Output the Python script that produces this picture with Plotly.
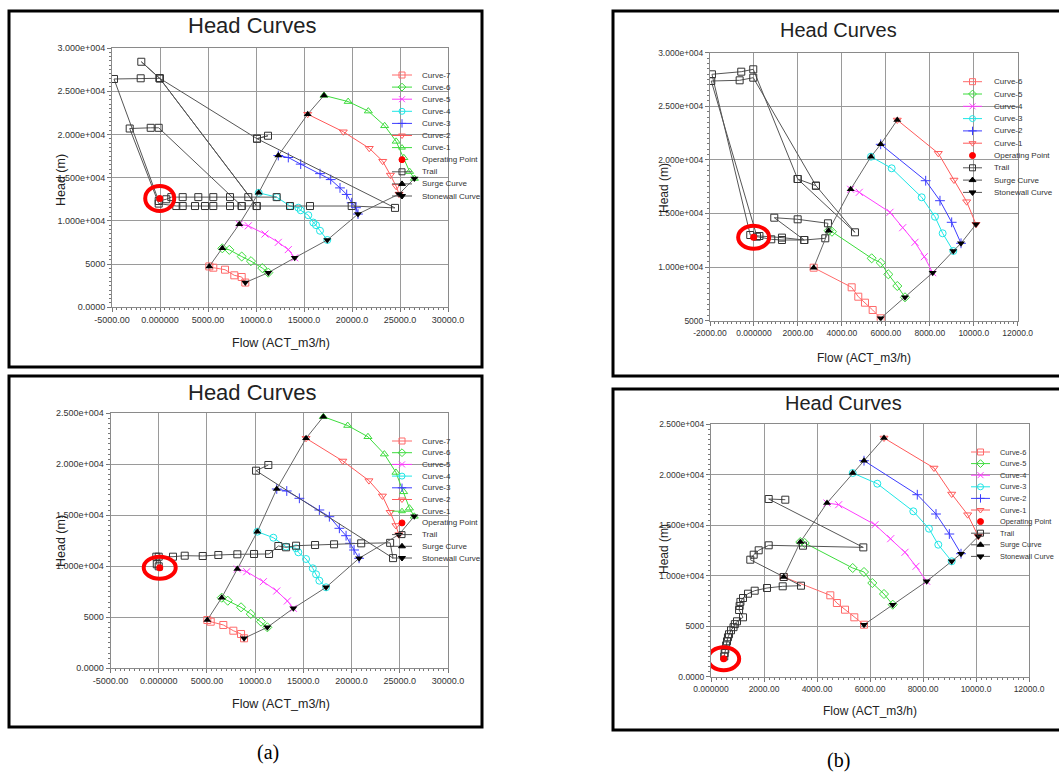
import plotly.graph_objects as go

W, H = 1059, 772
FONT = "Liberation Sans, Arial, sans-serif"

# ===================== DATA =====================
# ---- panel (a) top ----
a1_c7_q = [5135, 5552, 6771, 7740, 8510, 8885]
a1_c7_h = [4731, 4582, 4353, 3700, 3505, 2864]
a1_c6_q = [6490, 7219, 8510, 9479, 10656, 11281]
a1_c6_h = [6827, 6644, 5876, 5338, 4536, 4009]
a1_c5_q = [8260, 9198, 10938, 12323, 13365, 14031]
a1_c5_h = [9622, 9427, 8477, 7514, 6678, 5727]
a1_c4_q = [10281, 12156, 13542, 14406, 14656, 15448, 15969, 16250, 16667, 17427]
a1_c4_h = [13242, 12749, 11718, 11523, 11226, 10653, 9805, 9507, 8855, 7789]
a1_c3_q = [12323, 13365, 14656, 16667, 17781, 18750, 19448, 19969, 20417, 20625]
a1_c3_h = [17560, 17331, 16564, 15464, 14777, 13814, 13058, 12096, 11523, 10790]
a1_c2_q = [15385, 19094, 21800, 23200, 24000, 24600, 24900]
a1_c2_h = [22337, 20309, 18400, 16900, 15300, 14000, 13100]
a1_c1_q = [17083, 19600, 21700, 23400, 24600, 25400, 26000, 26500]
a1_c1_h = [24513, 23800, 22700, 21000, 19200, 17300, 15700, 14900]
a1_op_q = [-31]
a1_op_h = [12600]
a1_trail_q = [12156, 9198, 7292, 5552, 3990, 2365, 1177, 656, -135,
              -4792, -2010, -31, -1948, -31,
              10104, 11250, 10104,
              24479, 19969, 15625, 13542, 10073,
              -31, 10073,
              8510, -135, -969, -3156, -135,
              1698, 2365, 3646, 4688, 5552, 7292, 8510]
a1_trail_h = [12749, 12749, 12749, 12749, 12749, 12749, 12749, 12500, 12300,
              26415, 26495, 26495, 28408, 26495,
              19507, 19851, 19507,
              11500, 11718, 11718, 11718, 11718,
              26495, 11718,
              11718, 20767, 20767, 20687, 12000,
              11718, 11718, 11718, 11718, 11718, 11718, 11718]

# ---- panel (a) bottom ----
a2_c7_q = [5041, 5394, 6701, 7739, 8537, 8849]
a2_c7_h = [4735, 4569, 4245, 3686, 3363, 2941]
a2_c6_q = [6535, 7158, 8537, 9544, 10612, 11265]
a2_c6_h = [6922, 6627, 5980, 5324, 4569, 4020]
a2_c5_q = [8154, 9129, 10851, 12241, 13340, 13963]
a2_c5_h = [9735, 9471, 8490, 7578, 6598, 5882]
a2_c4_q = [10228, 11888, 13205, 14243, 14481, 15280, 15975, 16317, 16660, 17355]
a2_c4_h = [13392, 12804, 11922, 11765, 11373, 10716, 9804, 9216, 8588, 7941]
a2_c3_q = [12241, 13278, 14585, 16660, 17697, 18734, 19429, 19844, 20259, 20778]
a2_c3_h = [17578, 17382, 16667, 15520, 14863, 13725, 13000, 12255, 11598, 10784]
a2_c2_q = [15280, 19087, 21800, 23200, 24000, 24600, 24900]
a2_c2_h = [22549, 20324, 18400, 16900, 15300, 14000, 13100]
a2_c1_q = [17075, 19600, 21700, 23400, 24600, 25400, 26000, 26500]
a2_c1_h = [24667, 23800, 22700, 21000, 19200, 17300, 15700, 14900]
a2_op_q = [104]
a2_op_h = [9863]
a2_trail_q = [11369, 10093, 24300, 24000, 21000, 18185, 16214, 14243, 13205, 12407, 11442, 9886, 8154,
              6183, 4564, 2697, 1483, 0, -249, -200, 0]
a2_trail_h = [19931, 19373, 10800, 12300, 12250, 12157, 12088, 12020, 11863, 11990, 11206, 11206, 11176,
              11108, 11010, 11039, 10941, 10941, 10941, 10200, 10000]

# ---- panel (b) top ----
b1_c6_q = [2717, 4446, 4746, 5051, 5401, 5766]
b1_c6_h = [9944, 8116, 7239, 6679, 5998, 5224]
b1_c5_q = [3399, 3549, 5356, 5766, 6113, 6522, 6872]
b1_c5_h = [13396, 13302, 10821, 10410, 9328, 8237, 7183]
b1_c4_q = [4400, 4792, 6189, 6767, 7327, 7750, 8132]
b1_c4_h = [17257, 16978, 15112, 13675, 12313, 10970, 9478]
b1_c3_q = [5324, 6266, 7631, 8237, 8586, 9070]
b1_c3_h = [20299, 19216, 16511, 14701, 13153, 11502]
b1_c2_q = [5766, 7813, 8464, 8996, 9420]
b1_c2_h = [21455, 18060, 16194, 14179, 12220]
b1_c1_q = [6521, 8387, 9101, 9679, 10102]
b1_c1_h = [23722, 20616, 18125, 16101, 13993]
b1_op_q = [-14]
b1_op_h = [12780]
b1_trail_q = [1989, 4596, 2821, 1989, -32, -578, -1911, -168, 250, 1274, 2289, 924, 1989, 3367, 3245, 2289,
              1274, 787, 137, -1943, -651, -32, 2821]
b1_trail_h = [18218, 13246, 17593, 18218, 28451, 28228, 27985, 12994, 12900, 12750, 12528, 14608, 14459,
              14086, 12687, 12528, 12528, 12593, 12836, 27360, 27425, 27668, 17593]

# ---- panel (b) bottom ----
b2_c6_q = [2743, 4502, 4750, 5057, 5408, 5774]
b2_c6_h = [9864, 8053, 7291, 6628, 5877, 5145]
b2_c5_q = [3370, 3536, 5347, 5774, 6087, 6528, 6857]
b2_c5_h = [13326, 13227, 10754, 10358, 9270, 8182, 7123]
b2_c4_q = [4377, 4818, 6189, 6781, 7321, 7736, 8140]
b2_c4_h = [17182, 17016, 15037, 13653, 12307, 10922, 9438]
b2_c3_q = [5347, 6276, 7634, 8226, 8577, 9083]
b2_c3_h = [20152, 19094, 16363, 14642, 13059, 11416]
b2_c2_q = [5774, 7785, 8491, 8994, 9434]
b2_c2_h = [21369, 18006, 16096, 14118, 12169]
b2_c1_q = [6528, 8415, 9083, 9686, 10087]
b2_c1_h = [23615, 20647, 18075, 16027, 13890]
b2_op_q = [479]
b2_op_h = [1781]
b2_trail_q = [2804, 2177, 5747, 3472, 2177, 1800, 1611, 1483, 2743, 3396, 2706, 2113, 1649, 1396, 1208,
              1110, 1080, 1060, 1208, 981, 900, 850, 755, 680, 640, 604, 570, 540, 516, 500]
b2_trail_h = [17511, 17580, 12794, 12960, 13000, 12505, 12070, 11575, 9864, 9003, 8943, 8775, 8508, 8211,
              7786, 7400, 7000, 6600, 5877, 5481, 5200, 4900, 4590, 4200, 3900, 3502, 3100, 2700, 2345,
              2000]

# ---- tick labels ----
a_x_vals = [-5000, 0, 5000, 10000, 15000, 20000, 25000, 30000]
a_x_text = ["-5000.00", "0.000000", "5000.00", "10000.0", "15000.0", "20000.0", "25000.0", "30000.0"]
a1_y_vals = [0, 5000, 10000, 15000, 20000, 25000, 30000]
a1_y_text = ["0.0000", "5000", "1.000e+004", "1.500e+004", "2.000e+004", "2.500e+004", "3.000e+004"]
a2_y_vals = [0, 5000, 10000, 15000, 20000, 25000]
a2_y_text = ["0.0000", "5000", "1.000e+004", "1.500e+004", "2.000e+004", "2.500e+004"]
b1_x_vals = [-2000, 0, 2000, 4000, 6000, 8000, 10000, 12000]
b1_x_text = ["-2000.00", "0.000000", "2000.00", "4000.00", "6000.00", "8000.00", "10000.0", "12000.0"]
b1_y_vals = [5000, 10000, 15000, 20000, 25000, 30000]
b1_y_text = ["5000", "1.000e+004", "1.500e+004", "2.000e+004", "2.500e+004", "3.000e+004"]
b2_x_vals = [0, 2000, 4000, 6000, 8000, 10000, 12000]
b2_x_text = ["0.000000", "2000.00", "4000.00", "6000.00", "8000.00", "10000.0", "12000.0"]
b2_y_vals = [0, 5000, 10000, 15000, 20000, 25000]
b2_y_text = ["0.0000", "5000", "1.000e+004", "1.500e+004", "2.000e+004", "2.500e+004"]

# ===================== STYLES =====================
STY = {
    'sq':   dict(symbol='square-open', color='#ff6a6a'),
    'dia':  dict(symbol='diamond-open', color='#3ddc3d'),
    'x':    dict(symbol='x-thin-open', color='#ff3cff'),
    'circ': dict(symbol='circle-open', color='#1ee6e6'),
    'plus': dict(symbol='cross-thin-open', color='#3c3cff'),
    'tdn':  dict(symbol='triangle-down-open', color='#ff5a5a'),
    'tup':  dict(symbol='triangle-up-open', color='#3ddc3d'),
}
TRAIL_C = '#555555'
SURGE_C = '#666666'

a1_curves = [("Curve-7", a1_c7_q, a1_c7_h, 'sq'), ("Curve-6", a1_c6_q, a1_c6_h, 'dia'),
             ("Curve-5", a1_c5_q, a1_c5_h, 'x'), ("Curve-4", a1_c4_q, a1_c4_h, 'circ'),
             ("Curve-3", a1_c3_q, a1_c3_h, 'plus'), ("Curve-2", a1_c2_q, a1_c2_h, 'tdn'),
             ("Curve-1", a1_c1_q, a1_c1_h, 'tup')]
a2_curves = [("Curve-7", a2_c7_q, a2_c7_h, 'sq'), ("Curve-6", a2_c6_q, a2_c6_h, 'dia'),
             ("Curve-5", a2_c5_q, a2_c5_h, 'x'), ("Curve-4", a2_c4_q, a2_c4_h, 'circ'),
             ("Curve-3", a2_c3_q, a2_c3_h, 'plus'), ("Curve-2", a2_c2_q, a2_c2_h, 'tdn'),
             ("Curve-1", a2_c1_q, a2_c1_h, 'tup')]
b1_curves = [("Curve-6", b1_c6_q, b1_c6_h, 'sq'), ("Curve-5", b1_c5_q, b1_c5_h, 'dia'),
             ("Curve-4", b1_c4_q, b1_c4_h, 'x'), ("Curve-3", b1_c3_q, b1_c3_h, 'circ'),
             ("Curve-2", b1_c2_q, b1_c2_h, 'plus'), ("Curve-1", b1_c1_q, b1_c1_h, 'tdn')]
b2_curves = [("Curve-6", b2_c6_q, b2_c6_h, 'sq'), ("Curve-5", b2_c5_q, b2_c5_h, 'dia'),
             ("Curve-4", b2_c4_q, b2_c4_h, 'x'), ("Curve-3", b2_c3_q, b2_c3_h, 'circ'),
             ("Curve-2", b2_c2_q, b2_c2_h, 'plus'), ("Curve-1", b2_c1_q, b2_c1_h, 'tdn')]

# layout geometry in pixels
PANELS = [
    dict(curves=a1_curves, trail=(a1_trail_q, a1_trail_h), op=(a1_op_q, a1_op_h),
         border=(9, 11, 482, 367), plot=(112, 48, 448, 307.3), xr=(-5000, 30000), yr=(0, 30000),
         xt=(a_x_vals, a_x_text), yt=(a1_y_vals, a1_y_text), xminor=500, yminor=500,
         title=(252, 25, 22), flow=(281, 343, 12.5), head=(61, 180, 12.5), tick=9,
         leg=(392, 412, 420, 75, 12.1, 8), ell=(29, 25)),
    dict(curves=a2_curves, trail=(a2_trail_q, a2_trail_h), op=(a2_op_q, a2_op_h),
         border=(9, 376, 482, 727), plot=(110.5, 413.3, 448, 668.3), xr=(-5000, 30000), yr=(0, 25000),
         xt=(a_x_vals, a_x_text), yt=(a2_y_vals, a2_y_text), xminor=500, yminor=500,
         title=(252, 392, 22), flow=(281, 704, 12.5), head=(61, 541, 12.5), tick=9,
         leg=(392, 412, 420, 441, 11.7, 8), ell=(32, 22)),
    dict(curves=b1_curves, trail=(b1_trail_q, b1_trail_h), op=(b1_op_q, b1_op_h),
         border=(613, 11, 1064, 376), plot=(710, 52.7, 1017.7, 320.7), xr=(-2000, 12000), yr=(5000, 30000),
         xt=(b1_x_vals, b1_x_text), yt=(b1_y_vals, b1_y_text), xminor=200, yminor=500,
         title=(838, 30, 20), flow=(864, 358, 12), head=(664, 188, 12), tick=8.5,
         leg=(963, 982, 992, 81.7, 12.3, 8), ell=(31, 23)),
    dict(curves=b2_curves, trail=(b2_trail_q, b2_trail_h), op=(b2_op_q, b2_op_h),
         border=(613, 389, 1064, 730), plot=(711, 424, 1029, 676.7), xr=(0, 12000), yr=(0, 25000),
         xt=(b2_x_vals, b2_x_text), yt=(b2_y_vals, b2_y_text), xminor=200, yminor=500,
         title=(843, 403, 20), flow=(870, 711, 12), head=(664, 549, 12), tick=8.5,
         leg=(971, 990, 998, 452, 11.6, 7.4), ell=(31, 23)),
]


def fx(px):
    return px / W


def fy(py):
    return 1 - py / H


fig = go.Figure()
shapes, annos = [], []
layout_axes = {}
OV = 5  # overlay axis index (pixel space) for the legend keys

for i, p in enumerate(PANELS, start=1):
    xa, ya = f"x{i}" if i > 1 else "x", f"y{i}" if i > 1 else "y"
    xk, yk = f"xaxis{i}" if i > 1 else "xaxis", f"yaxis{i}" if i > 1 else "yaxis"
    x0, y0, x1, y1 = p['plot']
    common = dict(showgrid=True, gridcolor='#9a9a9a', gridwidth=1, showline=True, linecolor='#8a8a8a',
                  linewidth=1, mirror=True, zeroline=False, ticks='outside', ticklen=4, tickcolor='#777',
                  tickfont=dict(family=FONT, size=p['tick'], color='#333'), fixedrange=True,
                  automargin=False)
    layout_axes[xk] = dict(domain=[fx(x0), fx(x1)], range=list(p['xr']), anchor=ya,
                           tickmode='array', tickvals=p['xt'][0], ticktext=p['xt'][1],
                           minor=dict(ticks='outside', ticklen=2, tickcolor='#777', dtick=p['xminor'],
                                      showgrid=False), **common)
    layout_axes[yk] = dict(domain=[fy(y1), fy(y0)], range=list(p['yr']), anchor=xa,
                           tickmode='array', tickvals=p['yt'][0], ticktext=p['yt'][1],
                           minor=dict(ticks='outside', ticklen=2, tickcolor='#777', dtick=p['yminor'],
                                      showgrid=False), **common)

    for name, q, h, s in p['curves']:
        st = STY[s]
        fig.add_trace(go.Scatter(x=q, y=h, mode='lines+markers', name=name, xaxis=xa, yaxis=ya,
                                 line=dict(color=st['color'], width=1),
                                 marker=dict(symbol=st['symbol'], size=7, color=st['color'],
                                             line=dict(color=st['color'], width=1)),
                                 showlegend=False))
    # surge / stonewall lines join the first / last point of every curve
    sq = [c[1][0] for c in p['curves']]
    sh = [c[2][0] for c in p['curves']]
    wq = [c[1][-1] for c in p['curves']]
    wh = [c[2][-1] for c in p['curves']]
    tq, th = p['trail']
    fig.add_trace(go.Scatter(x=tq, y=th, mode='lines+markers', name='Trail', xaxis=xa, yaxis=ya,
                             line=dict(color=TRAIL_C, width=1),
                             marker=dict(symbol='square-open', size=7, color='#333',
                                         line=dict(color='#333', width=1)), showlegend=False))
    fig.add_trace(go.Scatter(x=sq, y=sh, mode='lines+markers', name='Surge Curve', xaxis=xa, yaxis=ya,
                             line=dict(color=SURGE_C, width=1),
                             marker=dict(symbol='triangle-up', size=7, color='#000'), showlegend=False))
    fig.add_trace(go.Scatter(x=wq, y=wh, mode='lines+markers', name='Stonewall Curve', xaxis=xa, yaxis=ya,
                             line=dict(color=SURGE_C, width=1),
                             marker=dict(symbol='triangle-down', size=7, color='#000'), showlegend=False))
    oq, oh = p['op']
    fig.add_trace(go.Scatter(x=oq, y=oh, mode='markers', name='Operating Point', xaxis=xa, yaxis=ya,
                             marker=dict(symbol='circle', size=7, color='#ff0000'), showlegend=False))
    ew, eh = p['ell']
    shapes.append(dict(type='circle', xref=xa, yref=ya, xsizemode='pixel', ysizemode='pixel',
                       xanchor=oq[0], yanchor=oh[0], x0=-ew / 2, x1=ew / 2, y0=-eh / 2, y1=eh / 2,
                       line=dict(color='#ff0000', width=4)))

    bx0, by0, bx1, by1 = p['border']
    shapes.append(dict(type='rect', xref='paper', yref='paper', x0=fx(bx0), x1=fx(bx1), y0=fy(by1),
                       y1=fy(by0), line=dict(color='#000', width=3), layer='above'))
    tx, ty, ts = p['title']
    annos.append(dict(text='Head Curves', x=fx(tx), y=fy(ty), xref='paper', yref='paper', showarrow=False,
                      xanchor='center', yanchor='middle', font=dict(family=FONT, size=ts, color='#222')))
    tx, ty, ts = p['flow']
    annos.append(dict(text='Flow (ACT_m3/h)', x=fx(tx), y=fy(ty), xref='paper', yref='paper',
                      showarrow=False, xanchor='center', yanchor='middle',
                      font=dict(family=FONT, size=ts, color='#222')))
    tx, ty, ts = p['head']
    annos.append(dict(text='Head (m)', x=fx(tx), y=fy(ty), xref='paper', yref='paper', showarrow=False,
                      textangle=-90, xanchor='center', yanchor='middle',
                      font=dict(family=FONT, size=ts, color='#222')))

    lx0, lx1, ltx, ly0, ldy, lfs = p['leg']
    entries = [(n, STY[s]['symbol'], STY[s]['color'], True) for n, _, _, s in p['curves']]
    entries += [('Operating Point', 'circle', '#ff0000', False), ('Trail', 'square-open', '#333', True),
                ('Surge Curve', 'triangle-up', '#000', True), ('Stonewall Curve', 'triangle-down', '#000', True)]
    for k, (n, sym, col, has_line) in enumerate(entries):
        yy = ly0 + k * ldy
        lc = col if n.startswith('Curve') else TRAIL_C
        if has_line:
            fig.add_trace(go.Scatter(x=[lx0, lx1], y=[yy, yy], mode='lines', xaxis=f'x{OV}', yaxis=f'y{OV}',
                                     line=dict(color=lc, width=1), showlegend=False, hoverinfo='skip'))
        fig.add_trace(go.Scatter(x=[(lx0 + lx1) / 2], y=[yy], mode='markers', xaxis=f'x{OV}',
                                 yaxis=f'y{OV}', showlegend=False, hoverinfo='skip',
                                 marker=dict(symbol=sym, size=6, color=col, line=dict(color=col, width=1))))
        annos.append(dict(text=n, x=ltx, y=yy, xref=f'x{OV}', yref=f'y{OV}', showarrow=False,
                          xanchor='left', yanchor='middle', font=dict(family=FONT, size=lfs, color='#333')))

layout_axes[f'xaxis{OV}'] = dict(domain=[0, 1], range=[0, W], visible=False, fixedrange=True,
                                 anchor=f'y{OV}', automargin=False)
layout_axes[f'yaxis{OV}'] = dict(domain=[0, 1], range=[H, 0], visible=False, fixedrange=True,
                                 anchor=f'x{OV}', automargin=False)

annos.append(dict(text='(a)', x=fx(268), y=fy(752), xref='paper', yref='paper', showarrow=False,
                  xanchor='center', yanchor='middle',
                  font=dict(family='Liberation Serif, Times New Roman, serif', size=20, color='#000')))
annos.append(dict(text='(b)', x=fx(838), y=fy(760), xref='paper', yref='paper', showarrow=False,
                  xanchor='center', yanchor='middle',
                  font=dict(family='Liberation Serif, Times New Roman, serif', size=20, color='#000')))

fig.update_layout(width=W, height=H, margin=dict(l=0, r=0, t=0, b=0, pad=0, autoexpand=False),
                  paper_bgcolor='white', plot_bgcolor='rgba(0,0,0,0)', showlegend=False,
                  shapes=shapes, annotations=annos, font=dict(family=FONT), **layout_axes)

fig.write_html("out.html")
